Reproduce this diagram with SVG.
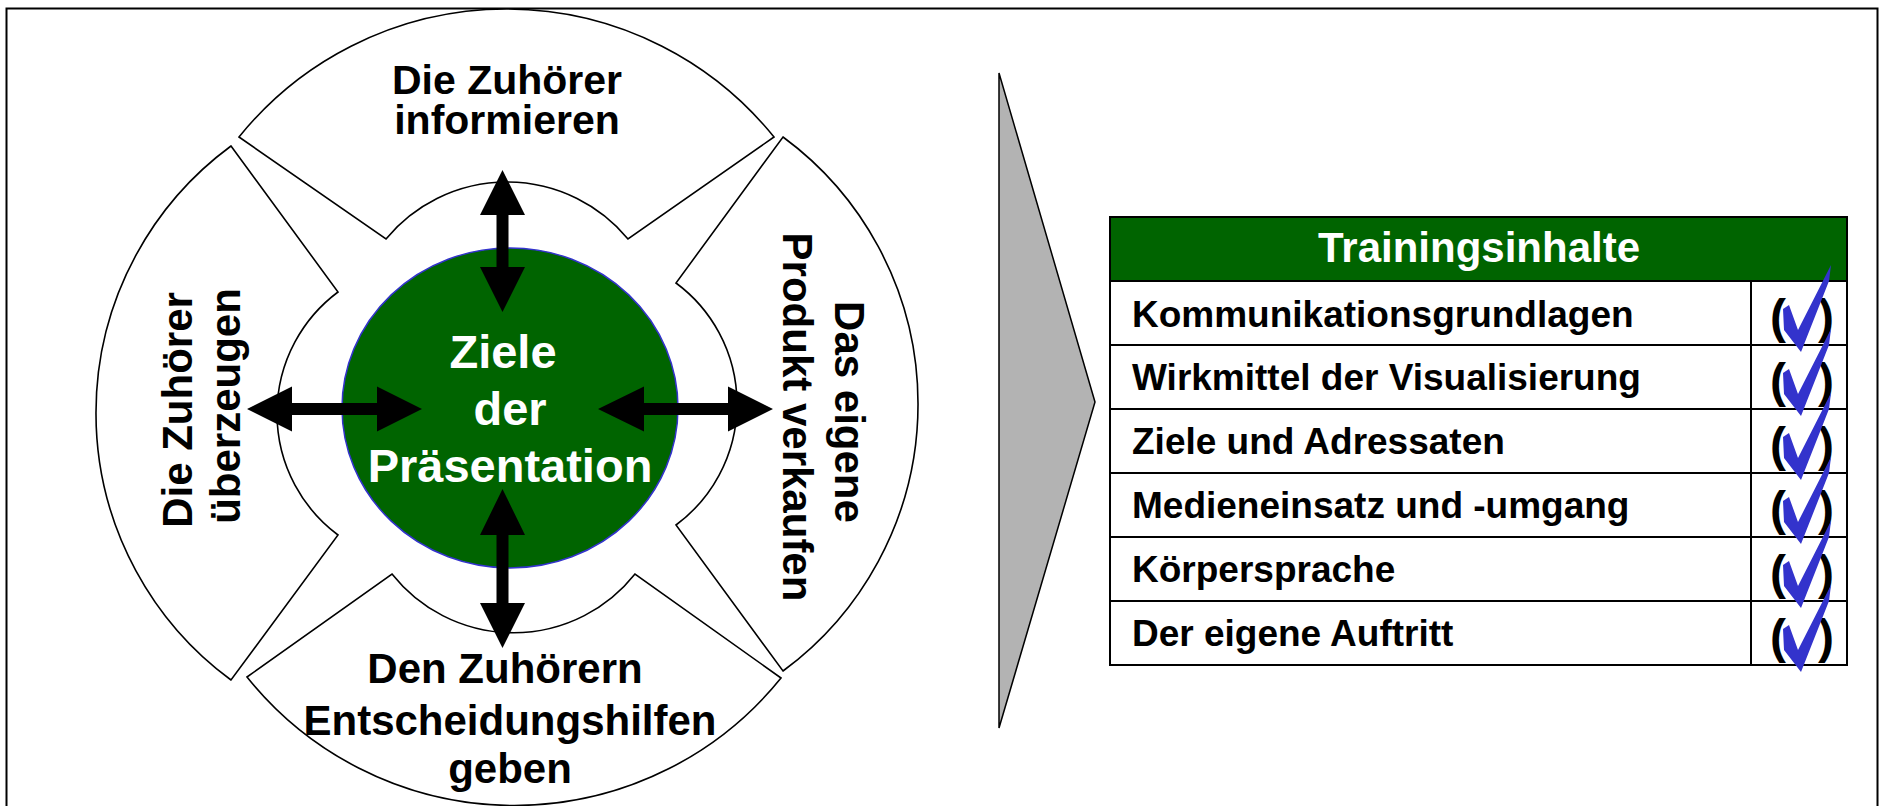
<svg xmlns="http://www.w3.org/2000/svg" xmlns:xlink="http://www.w3.org/1999/xlink" width="1887" height="806" viewBox="0 0 1887 806">
<style>
text{font-family:"Liberation Sans",Arial,Helvetica,sans-serif;font-weight:bold}
.seg{fill:#fff;stroke:#000;stroke-width:1.6}
.lbl{font-size:42px;fill:#000;text-anchor:middle}
.top{font-size:41px}
.ctr{font-size:47px;fill:#fff;text-anchor:middle}
.arrow{fill:#000;stroke:none}
.row{font-size:37px;fill:#000}
.par{font-size:48px;fill:#000;text-anchor:middle}
.chk{fill:#3333cc}
.grid{stroke:#000;stroke-width:2;fill:none}
</style>
<defs>
<path id="check" class="chk" d="M1783,28 L1789,24 L1798,49 L1831,-16 L1829,0 L1801,71 L1784,49 Z"/>
</defs>
<rect x="0" y="0" width="1887" height="806" fill="#fff"/>
<rect id="frame" x="6.5" y="8.5" width="1871" height="900" fill="none" stroke="#000" stroke-width="2"/>

<g id="seg-top">
<path class="seg" d="M239,137 A343.5,343.5 0 0 1 774,137 L628,239 A157,157 0 0 0 386,239 Z"/>
<text class="lbl top" x="507" y="93.5">Die Zuhörer</text>
<text class="lbl top" x="507" y="134">informieren</text>
</g>
<g id="seg-left">
<path class="seg" d="M231,146 L338,292 A151.5,151.5 0 0 0 338,535 L231,680 A331.5,331.5 0 0 1 231,146 Z"/>
<text class="lbl" transform="translate(192,410) rotate(-90)">Die Zuhörer</text>
<text class="lbl" transform="translate(240,406) rotate(-90)">überzeugen</text>
</g>
<g id="seg-right">
<path class="seg" d="M783,137 A331.5,331.5 0 0 1 783,671 L676,525 A150.5,150.5 0 0 0 676,283 Z"/>
<text class="lbl" transform="translate(835,412) rotate(90)">Das eigene</text>
<text class="lbl" transform="translate(783,417) rotate(90)">Produkt verkaufen</text>
</g>
<g id="seg-bottom">
<path class="seg" d="M247,677 L392,574 A155,155 0 0 0 635,574 L781,678 A342.5,342.5 0 0 1 247,677 Z"/>
<text class="lbl" x="505" y="683">Den Zuhörern</text>
<text class="lbl" x="510" y="735">Entscheidungshilfen</text>
<text class="lbl" x="510" y="783">geben</text>
</g>
<g id="center">
<ellipse cx="510" cy="408" rx="168" ry="160" fill="#006400" stroke="#3333cc" stroke-width="1.5"/>
</g>

<g id="connectors">
<path class="arrow" d="M502.5,170 L525,215 L508.5,215 L508.5,267 L525,267 L502.5,312 L480,267 L496.5,267 L496.5,215 L480,215 Z"/>
<path class="arrow" d="M502.5,489 L525,535 L508.5,535 L508.5,603 L525,603 L502.5,648 L480,603 L496.5,603 L496.5,535 L480,535 Z"/>
<path class="arrow" d="M247,409 L292,386.5 L292,403 L377,403 L377,386.5 L422,409 L377,431.5 L377,415 L292,415 L292,431.5 Z"/>
<path class="arrow" d="M598,409 L644,386.5 L644,403 L728,403 L728,386.5 L773,409 L728,431.5 L728,415 L644,415 L644,431.5 Z"/>
</g>

<g id="center-label">
<text class="ctr" x="503" y="368">Ziele</text>
<text class="ctr" x="510" y="425">der</text>
<text class="ctr" x="510" y="482">Präsentation</text>
</g>

<g id="chevron">
<polygon points="999,73 1095,402 999,728" fill="#b3b3b3" stroke="#000" stroke-width="1.5"/>
</g>

<g id="table">
<rect x="1110" y="217" width="737" height="64" fill="#006400"/>
<text x="1479" y="262" font-size="42" fill="#fff" text-anchor="middle">Trainingsinhalte</text>
<rect class="grid" x="1110" y="217" width="737" height="448"/>
<path class="grid" d="M1110,281 H1847 M1110,345 H1847 M1110,409 H1847 M1110,473 H1847 M1110,537 H1847 M1110,601 H1847 M1751,281 V665"/>
<text class="row" x="1132" y="327">Kommunikationsgrundlagen</text>
<text class="row" x="1132" y="390">Wirkmittel der Visualisierung</text>
<text class="row" x="1132" y="454">Ziele und Adressaten</text>
<text class="row" x="1132" y="518">Medieneinsatz und -umgang</text>
<text class="row" x="1132" y="582">Körpersprache</text>
<text class="row" x="1132" y="646">Der eigene Auftritt</text>
<g id="checks">
<text class="par" x="1778" y="333">(</text><text class="par" x="1826" y="333">)</text>
<text class="par" x="1778" y="397">(</text><text class="par" x="1826" y="397">)</text>
<text class="par" x="1778" y="461">(</text><text class="par" x="1826" y="461">)</text>
<text class="par" x="1778" y="525">(</text><text class="par" x="1826" y="525">)</text>
<text class="par" x="1778" y="589">(</text><text class="par" x="1826" y="589">)</text>
<text class="par" x="1778" y="653">(</text><text class="par" x="1826" y="653">)</text>
<use xlink:href="#check" transform="translate(0,281)"/>
<use xlink:href="#check" transform="translate(0,345)"/>
<use xlink:href="#check" transform="translate(0,409)"/>
<use xlink:href="#check" transform="translate(0,473)"/>
<use xlink:href="#check" transform="translate(0,537)"/>
<use xlink:href="#check" transform="translate(0,601)"/>
</g>
</g>
</svg>
